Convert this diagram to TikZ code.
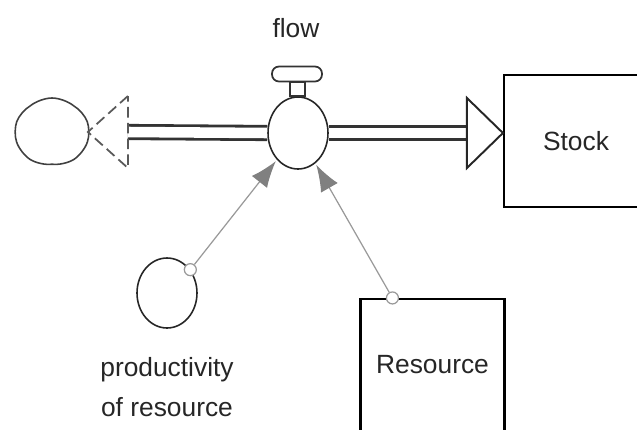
\documentclass[tikz,border=0pt]{standalone}
\usepackage{fontspec}
\setmainfont{Liberation Sans}
\usetikzlibrary{shapes.geometric, shapes.symbols, arrows.meta, positioning, calc}
\tikzset{
	stockbox/.style ={rectangle, draw=black, line width=1.2pt, minimum width=144*0.02cm, minimum height=132*0.02cm, align=center},
	auxvar/.style   ={ellipse, draw=black!85, line width=0.9pt, minimum width=60*0.02cm, minimum height=70*0.02cm, inner sep=0pt},
	valvebody/.style={ellipse, draw=black!85, line width=0.9pt, fill=white, minimum width=60*0.02cm, minimum height=72*0.02cm, inner sep=0pt},
	valvetop/.style ={rectangle, rounded corners=4pt, draw=black!80, line width=1pt, minimum width=50*0.02cm, minimum height=15*0.02cm, inner sep=0pt},
	sourcecloud/.style={cloud, cloud puffs=5, cloud puff arc=80, aspect=1.1, draw=black!75, line width=0.9pt, minimum width=74*0.02cm, minimum height=68*0.02cm, inner sep=0pt},
	pipe/.style     ={draw=black!80, line width=1.6pt, double=white, double distance=6pt},
	% information links
	link/.style     ={draw=black!40, line width=0.7pt, -{Latex[length=15pt, width=11pt, color=black!50]}, shorten >=1pt},
	linkdot/.style  ={circle, draw=black!40, fill=white, line width=0.7pt, minimum size=12*0.02cm, inner sep=0pt},
	lbl/.style      ={text=black!85, font=\fontsize{15}{19}\selectfont},
}
\begin{document}
\begin{tikzpicture}[x=0.02cm, y=-0.02cm, lbl]
	\useasboundingbox (0,0) rectangle (637,430);
	% stocks, converter, cloud
	\node[stockbox] (stock) at (576,141) {Stock};
	\node[stockbox] (res) at (432.5,365) {Resource};
	\node[auxvar] (prod) at (167,293) {};
	\node[align=center, below=22*0.02cm of prod] (prodlbl) {productivity\\[4pt]of resource};
	\node[sourcecloud] (src) at (52,132) {};
	% valve
	\node[valvebody] (valve) at (298,133) {};
	\node[valvetop] (vtop) at (297,74) {};
	\node (flowlbl) at (296,28) {flow};
	\draw[draw=black!80, line width=1pt] ($(vtop.south)+(-7,0)$) rectangle ($(valve.north)+(7,0)$);
	% flow pipe, source side
	\coordinate (tipL) at ($(src.east)+(-2,0)$);
	\coordinate (backL) at ($(tipL)+(40,0)$);
	\draw[pipe] (backL) -- (valve.west);
	\draw[draw=black!65, line width=1pt, dash pattern=on 6pt off 3pt] ($(backL)+(0,-36)$) -- (tipL) -- ($(backL)+(0,36)$) -- cycle;
	% flow pipe, stock side
	\coordinate (tipR) at (stock.west |- valve);
	\coordinate (backR) at ($(tipR)+(-36,0)$);
	\draw[pipe] (valve.east) -- (backR);
	\draw[draw=black!85, line width=1.1pt, fill=white] ($(backR)+(0,-35)$) -- (tipR) -- ($(backR)+(0,35)$) -- cycle;
	% information links
	\node[linkdot] (prodout) at (prod.45) {};
	\node[linkdot] (resout) at ($(res.north west)+(33,0)$) {};
	\draw[link] (prodout) -- (valve);
	\draw[link] (resout) -- (valve);
\end{tikzpicture}
\end{document}
